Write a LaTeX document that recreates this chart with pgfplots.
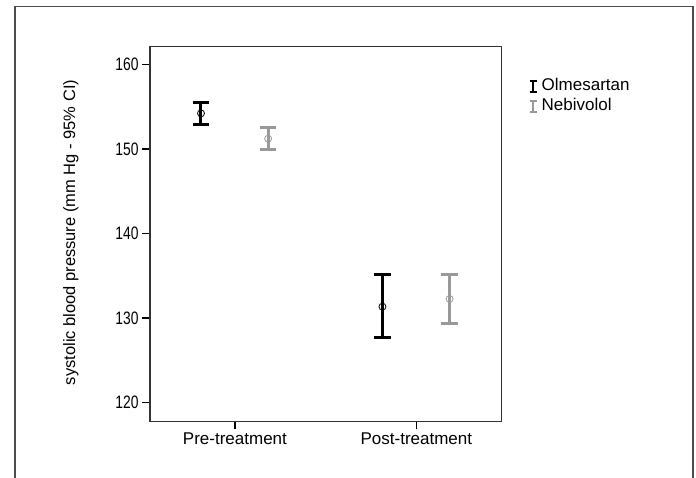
\documentclass[border=0pt]{standalone}
\usepackage{fontspec}
\setmainfont{Liberation Sans}
\newfontfamily\tickfont[FakeStretch=0.77]{Liberation Sans}
\usepackage{pgfplots}
\pgfplotsset{compat=1.18}
\definecolor{nebi}{HTML}{999999}
\begin{document}
\begin{tikzpicture}
\useasboundingbox (0pt,0pt) rectangle (696pt,478pt);
\draw[black!70, line width=1.5pt] (15pt,-5pt) -- (15pt,471.5pt) -- (693pt,471.5pt) -- (693pt,-5pt);
\begin{axis}[
  at={(150pt,56.7pt)}, anchor=south west,
  scale only axis, width=351.3pt, height=374.6pt,
  xmin=0.532, xmax=2.468, ymin=117.8, ymax=162.08,
  xtick={1,2}, xticklabels={Pre-treatment, Post-treatment},
  ytick={120,130,140,150,160},
  tick align=outside, major tick length=8pt,
  xtick pos=bottom, ytick pos=left,
  tick style={black, line width=1.3pt},
  axis line style={black!80, line width=1.2pt},
  /pgf/number format/assume math mode=true,
  yticklabel style={font=\tickfont\fontsize{18}{20}\selectfont},
  xticklabel style={font=\fontsize{17}{20}\selectfont},
  ylabel={systolic blood pressure (mm Hg - 95\% CI)},
  ylabel style={font=\fontsize{16.5}{20}\selectfont, at={(axis description cs:-0.1936,0.504)}, anchor=south},
  legend style={at={(1,1)}, anchor=north west, xshift=27pt, yshift=-32pt, draw=none, fill=none, inner sep=0pt, row sep=5pt, font=\fontsize{17}{20}\selectfont, nodes={inner sep=0pt, text height=12pt, text depth=3pt}, /tikz/every odd column/.append style={column sep=4pt}},
  legend cell align=left,
]
\addplot[black, only marks, mark=o, mark options={line width=0.8pt, mark size=3.5pt, solid},
  legend image code/.code={
    \draw[black, line width=2pt] (3.5pt,-5.5pt) -- (3.5pt,5.5pt);
    \draw[black, line width=2.2pt] (0pt,-5.5pt) -- (7pt,-5.5pt);
    \draw[black, line width=2.2pt] (0pt,5.5pt) -- (7pt,5.5pt);},
  error bars/.cd, y dir=both, y explicit,
  error bar style={line width=3pt, black},
  error mark options={rotate=90, mark size=8.3pt, line width=3pt, black},
  ]
  table[x=x, y=y, y error plus=ep, y error minus=em] {
x y ep em
0.813 154.20 1.34 1.26
1.813 131.35 3.75 3.65
};
\addlegendentry{Olmesartan}
\addplot[nebi, only marks, mark=o, mark options={line width=0.8pt, mark size=3.5pt, solid},
  legend image code/.code={
    \draw[nebi, line width=1.6pt] (3.5pt,-5.5pt) -- (3.5pt,5.5pt);
    \draw[nebi, line width=1.8pt] (0pt,-5.5pt) -- (7pt,-5.5pt);
    \draw[nebi, line width=1.8pt] (0pt,5.5pt) -- (7pt,5.5pt);},
  error bars/.cd, y dir=both, y explicit,
  error bar style={line width=3pt, nebi},
  error mark options={rotate=90, mark size=8.3pt, line width=3pt, nebi},
  ]
  table[x=x, y=y, y error plus=ep, y error minus=em] {
x y ep em
1.183 151.20 1.27 1.25
2.183 132.26 2.92 2.92
};
\addlegendentry{Nebivolol}
\end{axis}
\end{tikzpicture}
\end{document}
